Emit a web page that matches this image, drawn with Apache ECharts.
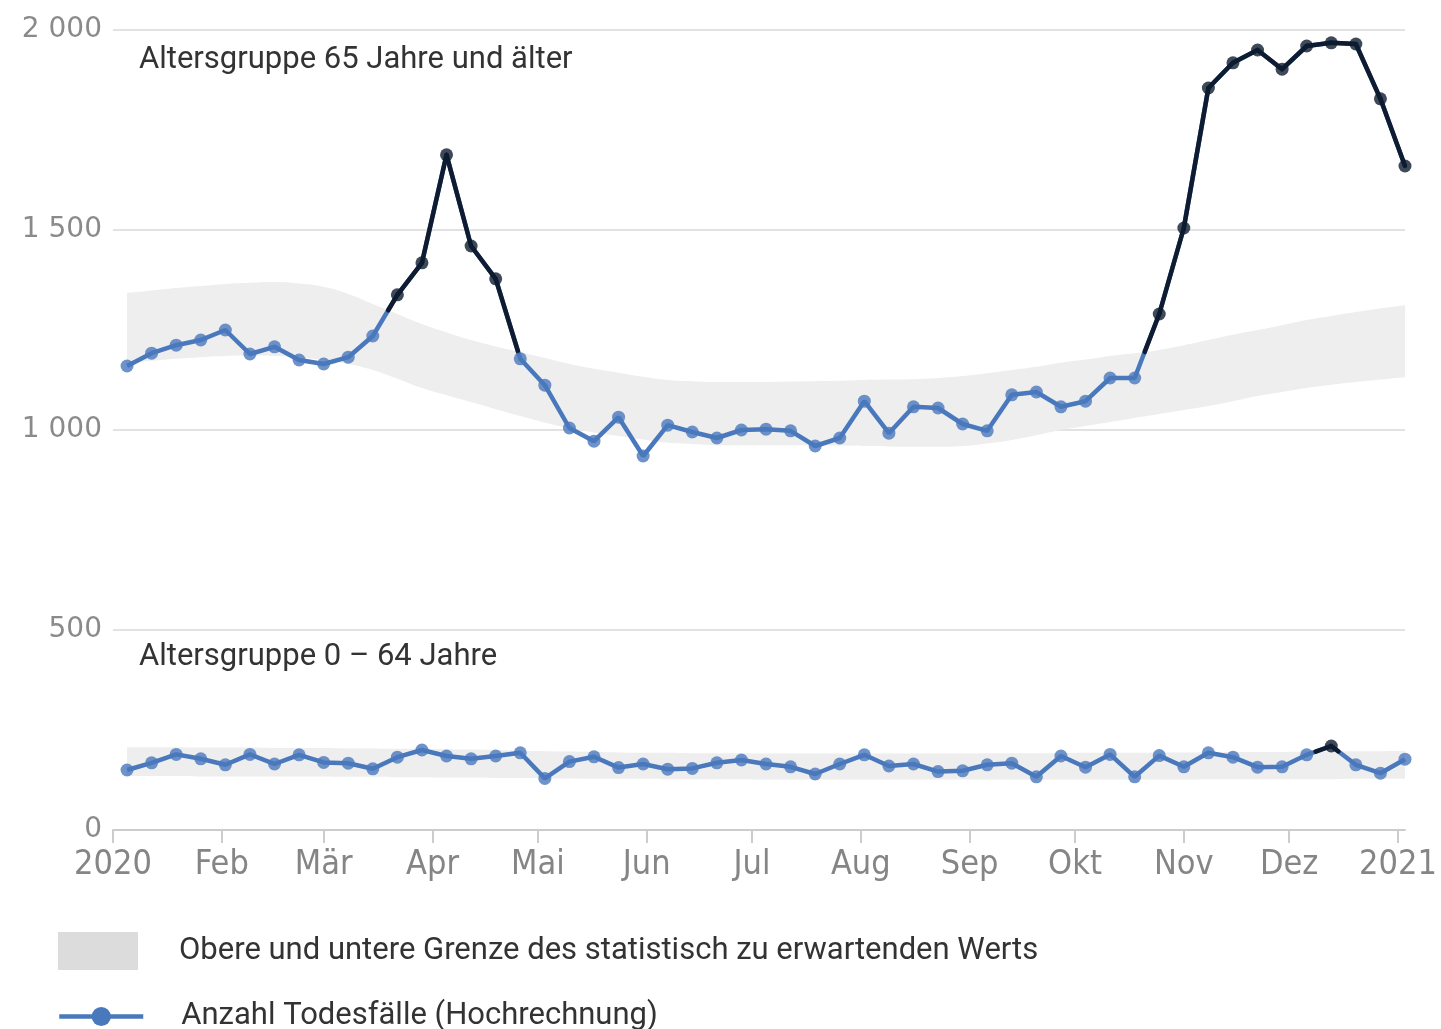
<!DOCTYPE html>
<head>
    <meta charset="utf-8"/>
    <style>
        html, body {
            height: 100%;
            margin: 0;
        }
        body {
            background-color: #fff;
        }
    </style>
    <script src="https://cdn.jsdelivr.net/npm/echarts@6/dist/echarts.min.js"></script>
</head>
<body>
<div id="main" style="width: 1441px; height: 1029px;"></div>
<script type="text/javascript">
// Wochenende (Sonntag) der Kalenderwochen 2020
var weeks = ['2020-01-05','2020-01-12','2020-01-19','2020-01-26','2020-02-02','2020-02-09','2020-02-16','2020-02-23',
    '2020-03-01','2020-03-08','2020-03-15','2020-03-22','2020-03-29','2020-04-05','2020-04-12','2020-04-19','2020-04-26',
    '2020-05-03','2020-05-10','2020-05-17','2020-05-24','2020-05-31','2020-06-07','2020-06-14','2020-06-21','2020-06-28',
    '2020-07-05','2020-07-12','2020-07-19','2020-07-26','2020-08-02','2020-08-09','2020-08-16','2020-08-23','2020-08-30',
    '2020-09-06','2020-09-13','2020-09-20','2020-09-27','2020-10-04','2020-10-11','2020-10-18','2020-10-25',
    '2020-11-01','2020-11-08','2020-11-15','2020-11-22','2020-11-29','2020-12-06','2020-12-13','2020-12-20','2020-12-27',
    '2021-01-03'];
var monthLabels = ['Jan','Feb','Mär','Apr','Mai','Jun','Jul','Aug','Sep','Okt','Nov','Dez'];
var yTicks = [0, 500, 1000, 1500, 2000];

// 65 Jahre und älter
var oldDeaths = [1160,1192,1212,1225,1250,1190,1208,1175,1165,1182,1235,1338,1418,1688,1460,1378,1178,
    1112,1005,972,1032,935,1012,995,980,1000,1002,998,960,980,1072,992,1058,1055,1015,998,1088,1095,
    1058,1072,1130,1130,1290,1505,1855,1918,1950,1902,1960,1968,1965,1828,1660];
var oldUpper = [1343,1349,1355,1360,1365,1368,1370,1366,1358,1340,1315,1290,1265,1244,1225,1209,1195,
    1180,1165,1153,1143,1133,1125,1122,1120,1120,1120,1121,1122,1123,1125,1126,1127,1130,1135,1142,1150,
    1158,1168,1176,1185,1192,1200,1212,1225,1238,1250,1262,1275,1285,1295,1304,1312];
var oldLower = [1168,1173,1178,1182,1185,1186,1185,1181,1175,1165,1150,1128,1105,1087,1070,1052,1035,
    1019,1005,994,985,976,968,965,962,962,962,962,962,961,960,959,958,958,960,966,975,
    987,1000,1010,1020,1030,1040,1050,1060,1072,1085,1095,1105,1113,1120,1126,1132];

// 0 - 64 Jahre
var youngDeaths = [150,168,189,178,163,189,165,188,169,167,153,182,200,185,178,185,193,
    129,171,183,156,165,152,154,168,175,165,158,140,165,188,160,165,146,148,163,167,
    133,185,157,189,133,186,158,193,182,157,158,188,210,163,142,177];
var youngUpper = [207,207,207,206,206,206,205,205,205,204,204,203,203,202,201,200,198,
    197,196,195,194,193,193,192,192,192,191,191,191,191,191,191,191,191,191,192,192,
    192,192,193,193,193,194,194,194,195,195,195,196,196,197,197,198];
var youngLower = [135,135,135,134,134,134,134,134,134,133,133,132,132,131,131,130,130,
    129,129,128,128,128,127,127,127,127,126,126,126,126,126,126,126,126,126,126,126,
    126,126,126,126,126,126,126,127,127,127,127,127,127,128,128,128];

var BLUE = '#4a78bd';
var DARK = '#0e1b30';
var BAND = 'Obere und untere Grenze des statistisch zu erwartenden Werts';
var LINE = 'Anzahl Todesfälle (Hochrechnung)';
var DAY = 24 * 3600 * 1000;

function toTime(s) {
    var p = s.split('-').map(Number);
    return new Date(p[0], p[1] - 1, p[2]).getTime();
}
var times = weeks.map(toTime);

function pairs(vals) {
    return vals.map(function (v, i) { return [times[i], v]; });
}
function diff(up, low) {
    return up.map(function (v, i) { return [times[i], v - low[i]]; });
}
function dots(vals, upper) {
    return vals.map(function (v, i) {
        return { value: [times[i], v], itemStyle: { color: v > upper[i] ? DARK : BLUE } };
    });
}
// dunkler Abschnitt, wo die Linie über der oberen Grenze liegt
function overRender(vals, upper) {
    return function (params, api) {
        var i = params.dataIndex;
        var p0 = api.coord([times[i], vals[i]]), p1 = api.coord([times[i + 1], vals[i + 1]]);
        var u0 = api.coord([times[i], upper[i]]), u1 = api.coord([times[i + 1], upper[i + 1]]);
        var d0 = u0[1] - p0[1], d1 = u1[1] - p1[1];
        if (d0 <= 0 && d1 <= 0) return null;
        var a = p0, b = p1;
        if (d0 <= 0 || d1 <= 0) {
            var f = d0 / (d0 - d1);
            var c = [p0[0] + f * (p1[0] - p0[0]), p0[1] + f * (p1[1] - p0[1])];
            if (d0 > 0) b = c; else a = c;
        }
        return {
            type: 'line',
            shape: { x1: a[0], y1: a[1], x2: b[0], y2: b[1] },
            style: { stroke: DARK, lineWidth: 4.5, lineCap: 'round' }
        };
    };
}

function bandSeries(stack, up, low) {
    return [{
        type: 'line', stack: stack, name: stack + '_low', data: pairs(low),
        symbol: 'none', smooth: true, lineStyle: { opacity: 0 }, silent: true, z: 1
    }, {
        type: 'line', stack: stack, name: BAND, data: diff(up, low),
        symbol: 'none', smooth: true, lineStyle: { opacity: 0 },
        areaStyle: { color: '#eeeeee', opacity: 1 }, itemStyle: { color: '#dcdcdc' }, silent: true, z: 1
    }];
}
function lineSeries(vals, upper) {
    return [{
        type: 'line', name: LINE, data: pairs(vals), symbol: 'circle', showSymbol: false,
        lineStyle: { color: BLUE, width: 4.5 }, itemStyle: { color: BLUE }, z: 2
    }, {
        type: 'custom', data: pairs(vals).slice(0, -1), encode: { x: 0, y: 1 },
        renderItem: overRender(vals, upper), z: 3, silent: true
    }, {
        type: 'scatter', data: dots(vals, upper), symbolSize: 13, z: 4, silent: true
    }];
}

var myChart = echarts.init(document.getElementById('main'));
var options = {
    animation: false,
    grid: { left: 113, right: 36, top: 30, bottom: 199 },
    xAxis: {
        type: 'time',
        min: new Date(2020, 0, 1).getTime(),
        max: times[times.length - 1],
        minInterval: 28 * DAY,
        maxInterval: 31 * DAY,
        axisLine: { lineStyle: { color: '#cccccc', width: 2 } },
        axisTick: { show: true, length: 13, lineStyle: { color: '#cccccc', width: 2 } },
        axisLabel: {
            margin: 18,
            color: '#858585',
            fontFamily: 'DejaVu Sans Condensed',
            fontSize: 34,
            showMaxLabel: false,
            formatter: function (v) {
                var d = new Date(v);
                if (d.getDate() !== 1) return '';
                return d.getMonth() === 0 ? String(d.getFullYear()) : monthLabels[d.getMonth()];
            }
        },
        splitLine: { show: false }
    },
    yAxis: {
        type: 'value',
        min: yTicks[0],
        max: yTicks[yTicks.length - 1],
        interval: 500,
        axisLine: { show: false },
        axisTick: { show: false },
        axisLabel: {
            margin: 11,
            color: '#8a8a8a',
            fontFamily: 'DejaVu Sans',
            fontSize: 28,
            padding: [5, 0, 0, 0],
            formatter: function (v) {
                return String(v).replace(/\B(?=(\d{3})+(?!\d))/g, ' ');
            }
        },
        splitLine: { lineStyle: { color: '#d9d9d9', width: 1.5 } }
    },
    legend: [{
        data: [{ name: BAND, icon: 'rect', itemStyle: { color: '#dcdcdc' } }],
        left: 58, top: 932, padding: 0, itemWidth: 80, itemHeight: 38,
        selectedMode: false,
        textStyle: { fontFamily: 'Roboto', fontSize: 31, color: '#333', padding: [4, 0, 0, 36] }
    }, {
        data: [{ name: LINE }],
        left: 57, top: 1001, padding: 0, itemWidth: 84, itemHeight: 24,
        selectedMode: false,
        lineStyle: { width: 4.5 },
        textStyle: { fontFamily: 'Roboto', fontSize: 31, color: '#333', padding: [0, 0, 0, 33] }
    }],
    graphic: [{
        type: 'text', left: 139, top: 45,
        style: { text: 'Altersgruppe 65 Jahre und älter', font: '31px Roboto', fill: '#333' }
    }, {
        type: 'text', left: 139, top: 642,
        style: { text: 'Altersgruppe 0 – 64 Jahre', font: '31px Roboto', fill: '#333' }
    }],
    series: [].concat(
        bandSeries('old', oldUpper, oldLower),
        bandSeries('young', youngUpper, youngLower),
        lineSeries(oldDeaths, oldUpper),
        lineSeries(youngDeaths, youngUpper)
    )
};
myChart.setOption(options);
</script>
</body>
